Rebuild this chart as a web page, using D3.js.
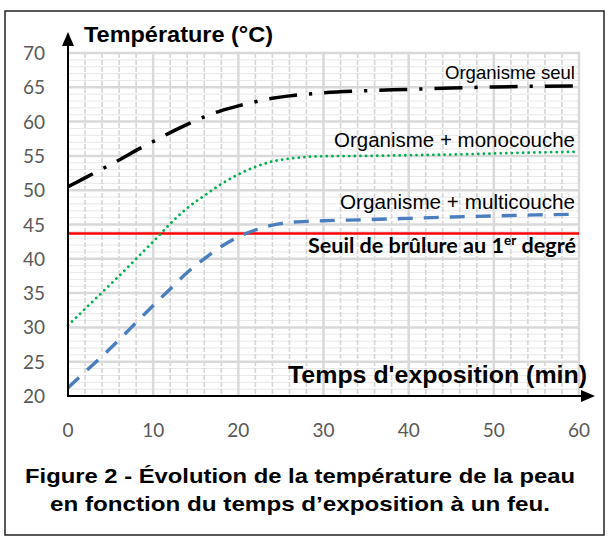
<!DOCTYPE html>
<html><head><meta charset="utf-8">
<script src="https://cdn.jsdelivr.net/npm/d3@7"></script>
<style>body{margin:0;background:#fff}svg{display:block}
.ar{font-family:"Liberation Sans", Arial, Helvetica, sans-serif}
.lt{font-family:Lato, "Open Sans", sans-serif}
</style>
</head><body>
<script>
// ---- data ----
const times = [0,2,4,6,8,10,12,14,16,18,20,22,24,26,28,30,35,40,45,50,55,60];
const seul = [50.5,51.8,53.1,54.4,55.8,57.1,58.4,59.6,60.7,61.6,62.3,62.9,63.4,63.75,64.0,64.2,64.5,64.7,64.9,65.05,65.15,65.2];
const mono = [30.3,32.7,35.1,37.5,40.0,42.5,45.1,47.4,49.2,50.9,52.3,53.4,54.2,54.6,54.85,54.95,55.0,55.1,55.2,55.35,55.5,55.6];
const multi = [21.2,23.5,25.8,28.2,30.7,33.2,35.6,38.0,40.0,41.8,43.2,44.2,44.9,45.3,45.45,45.55,45.7,45.9,46.1,46.25,46.4,46.5];
const seuil = 43.7;
const yTicks = [20,25,30,35,40,45,50,55,60,65,70];
const xTicks = [0,10,20,30,40,50,60];
const seriesNames = ["Organisme seul","Organisme + monocouche","Organisme + multicouche"];
const yTitle = "Température (°C)";
const xTitle = "Temps d'exposition (min)";
const caption = ["Figure 2 - Évolution de la température de la peau","en fonction du temps d’exposition à un feu."];

const W = 614, H = 546;
const svg = d3.select("body").append("svg").attr("width", W).attr("height", H);
svg.append("rect").attr("width", W).attr("height", H).attr("fill", "#fff");
svg.append("rect").attr("x", 5).attr("y", 11).attr("width", 599).attr("height", 524)
  .attr("fill", "none").attr("stroke", "#222").attr("stroke-width", 1.5);

const x = d3.scaleLinear().domain([0, 60]).range([68, 579]);
const y = d3.scaleLinear().domain([20, 70]).range([396, 53]);

const g = svg.append("g");
g.selectAll(".hmin").data(d3.range(21, 70).filter(v => v % 5 !== 0)).join("line")
  .attr("x1", x(0)).attr("x2", x(60)).attr("y1", d => y(d)).attr("y2", d => y(d))
  .attr("stroke", "#E8E8E8").attr("stroke-width", 1);
g.selectAll(".vmin").data(d3.range(2, 60, 2).filter(v => v % 10 !== 0)).join("line")
  .attr("x1", d => x(d)).attr("x2", d => x(d)).attr("y1", y(70)).attr("y2", y(20))
  .attr("stroke", "#D6D6D6").attr("stroke-width", 1.6).attr("stroke-dasharray", "5 2");
g.selectAll(".hmaj").data(yTicks.filter(v => v > 20)).join("line")
  .attr("x1", x(0)).attr("x2", x(60)).attr("y1", d => y(d)).attr("y2", d => y(d))
  .attr("stroke", "#D9D9D9").attr("stroke-width", 2.5);
g.selectAll(".vmaj").data(xTicks.filter(v => v > 0)).join("line")
  .attr("x1", d => x(d)).attr("x2", d => x(d)).attr("y1", y(70) - 1.2).attr("y2", y(20))
  .attr("stroke", "#D9D9D9").attr("stroke-width", 2.5);

svg.append("line").attr("x1", x(0)).attr("x2", x(60)).attr("y1", y(seuil)).attr("y2", y(seuil))
  .attr("stroke", "#FF0000").attr("stroke-width", 2.5);

const line = d3.line().x((d, i) => x(times[i])).y(d => y(d)).curve(d3.curveMonotoneX);
svg.append("path").attr("d", line(multi)).attr("fill", "none").attr("stroke", "#4A7EBF")
  .attr("stroke-width", 3.4).attr("stroke-dasharray", "15 11");
svg.append("path").attr("d", line(mono)).attr("fill", "none").attr("stroke", "#00B050")
  .attr("stroke-width", 2.8).attr("stroke-linecap", "round").attr("stroke-dasharray", "0.01 5.6");
svg.append("path").attr("d", line(seul)).attr("fill", "none").attr("stroke", "#000")
  .attr("stroke-width", 3.5).attr("stroke-dasharray", "28 12 3.2 12");

svg.append("line").attr("x1", x(0)).attr("x2", x(0)).attr("y1", y(20) + 1).attr("y2", 44)
  .attr("stroke", "#000").attr("stroke-width", 2);
svg.append("path").attr("d", `M${x(0)-6},46 L${x(0)},32 L${x(0)+6},46 Z`).attr("fill", "#000");
svg.append("line").attr("x1", x(0) - 1).attr("x2", 582).attr("y1", y(20)).attr("y2", y(20))
  .attr("stroke", "#000").attr("stroke-width", 2);
svg.append("path").attr("d", `M581,${y(20)-6} L595,${y(20)} L581,${y(20)+6} Z`).attr("fill", "#000");

svg.selectAll(".yl").data(yTicks).join("text").attr("class", "lt")
  .attr("x", 45).attr("y", d => y(d) + 7).attr("text-anchor", "end")
  .attr("font-size", 19).attr("fill", "#595959").text(d => d);
svg.selectAll(".xl").data(xTicks).join("text").attr("class", "lt")
  .attr("x", d => x(d)).attr("y", 437).attr("text-anchor", "middle")
  .attr("font-size", 19).attr("fill", "#595959").text(d => d);

svg.append("text").attr("class", "ar").attr("x", 84).attr("y", 42)
  .attr("font-weight", "bold").attr("font-size", 22.5).attr("fill", "#000")
  .attr("textLength", 189).attr("lengthAdjust", "spacingAndGlyphs").text(yTitle);
svg.append("text").attr("class", "ar").attr("x", 288).attr("y", 383)
  .attr("font-weight", "bold").attr("font-size", 23).attr("fill", "#000")
  .attr("textLength", 299).attr("lengthAdjust", "spacingAndGlyphs").text(xTitle);

const labX = [445, 334, 340], labW = [130, 241, 235], labY = [79.3, 146.5, 209.3], labS = [18.2, 20.5, 20.5];
svg.selectAll(".sl").data(seriesNames).join("text").attr("class", "ar")
  .attr("x", (d, i) => labX[i]).attr("y", (d, i) => labY[i])
  .attr("font-size", (d, i) => labS[i]).attr("fill", "#000")
  .attr("textLength", (d, i) => labW[i]).attr("lengthAdjust", "spacingAndGlyphs")
  .text(d => d);

const t = svg.append("text").attr("class", "lt").attr("x", 576).attr("y", 253).attr("text-anchor", "end")
  .attr("font-weight", "bold").attr("font-size", 21.6).attr("fill", "#000");
t.append("tspan").text("Seuil de brûlure au 1");
t.append("tspan").attr("font-size", 13.5).attr("dy", -8).text("er");
t.append("tspan").attr("dy", 8).text(" degré");

const capW = [550, 500];
svg.selectAll(".cap").data(caption).join("text").attr("class", "ar")
  .attr("x", (d, i) => 300 - capW[i] / 2).attr("y", (d, i) => 483 + i * 28)
  .attr("font-weight", "bold").attr("font-size", 21).attr("fill", "#000")
  .attr("textLength", (d, i) => capW[i]).attr("lengthAdjust", "spacingAndGlyphs")
  .text(d => d);
</script>
</body></html>
